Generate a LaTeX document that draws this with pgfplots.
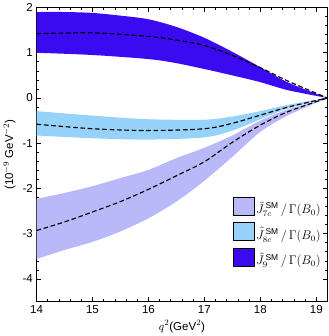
\documentclass[border=0pt]{standalone}
\usepackage{fontspec}
\setmainfont{Liberation Sans}
\usepackage{pgfplots}
\pgfplotsset{compat=1.18}
\usepgfplotslibrary{fillbetween}
\definecolor{cnine}{RGB}{60,10,240}
\definecolor{ceight}{RGB}{150,210,250}
\definecolor{cseven}{RGB}{185,185,250}
\begin{document}
\begin{tikzpicture}
\begin{axis}[
  scale only axis, width=278pt, height=281pt,
  xmin=14, xmax=19.2, ymin=-4.5, ymax=2,
  xtick={14,15,16,17,18,19}, ytick={-4,-3,-2,-1,0,1,2},
  minor x tick num=4, minor y tick num=4,
  tick align=inside, axis line style={line width=1.2pt},
  major tick length=4pt, minor tick length=2pt,
  tick style={black, line width=0.6pt},
  /pgf/number format/assume math mode=true,
  ticklabel style={font=\fontsize{11}{12}\selectfont},
  xlabel={$q^2$(GeV$^2$)}, ylabel={(10$^{-9}$ GeV$^{-2}$)},
  label style={font=\fontsize{11}{12}\selectfont},
  legend style={draw=none, fill=none, at={(0.995,0.105)}, anchor=south east, font=\fontsize{11.5}{12}\selectfont, row sep=5pt},
  legend cell align=left,
  legend image code/.code={\fill[#1] (0pt,-6pt) rectangle (20pt,11pt);},
]
% J8c band
\addplot[name path=e8u, draw=none, smooth, forget plot] coordinates {(14,-0.29) (15,-0.39) (16,-0.47) (17,-0.48) (17.5,-0.41) (18,-0.29) (18.5,-0.15) (19.2,0)};
\addplot[name path=e8l, draw=none, smooth, forget plot] coordinates {(14,-0.83) (15,-0.89) (16,-0.92) (17,-0.87) (17.5,-0.72) (18,-0.47) (18.5,-0.23) (19.2,0)};
\addplot[ceight, forget plot] fill between[of=e8u and e8l];
% J7c band
\addplot[name path=e7u, draw=none, smooth, forget plot] coordinates {(14,-2.23) (14.5,-2.1) (15,-1.95) (15.5,-1.77) (16,-1.59) (16.5,-1.33) (17,-1.1) (17.5,-0.83) (18,-0.5) (18.5,-0.25) (19.2,0)};
\addplot[name path=e7l, draw=none, smooth, forget plot] coordinates {(14,-3.56) (14.5,-3.36) (15,-3.18) (15.5,-2.95) (16,-2.66) (16.5,-2.29) (17,-1.83) (17.5,-1.3) (18,-0.75) (18.5,-0.38) (19.2,0)};
\addplot[cseven, forget plot] fill between[of=e7u and e7l];
% J9 band
\addplot[name path=e9u, draw=none, smooth, forget plot] coordinates {(14,1.9) (14.5,1.9) (15,1.88) (15.5,1.82) (16,1.74) (16.5,1.57) (17,1.33) (17.5,1.02) (18,0.68) (18.5,0.34) (19.2,0)};
\addplot[name path=e9l, draw=none, smooth, forget plot] coordinates {(14,1.0) (15,0.95) (16,0.86) (16.5,0.77) (17,0.64) (17.5,0.5) (18,0.35) (18.5,0.17) (19.2,0)};
\addplot[cnine, forget plot] fill between[of=e9u and e9l];
% central lines
\addplot[black, line width=1.1pt, smooth, dash pattern=on 4.5pt off 2.5pt, forget plot] coordinates {(14,1.42) (15,1.44) (16,1.36) (16.5,1.28) (17,1.16) (17.5,0.94) (18,0.67) (18.5,0.37) (19.2,0)};
\addplot[black, line width=1.1pt, smooth, dash pattern=on 4.5pt off 2.5pt, forget plot] coordinates {(14,-0.58) (15,-0.68) (16,-0.72) (17,-0.68) (17.5,-0.56) (18,-0.38) (18.5,-0.2) (19.2,0)};
\addplot[black, line width=1.1pt, smooth, dash pattern=on 4.5pt off 2.5pt, forget plot] coordinates {(14,-2.93) (14.5,-2.74) (15,-2.52) (15.5,-2.29) (16,-2.02) (16.5,-1.72) (17,-1.41) (17.5,-0.98) (18,-0.6) (18.5,-0.3) (19.2,0)};
\addlegendimage{fill=cseven}
\addlegendentry{$\tilde{J}^{\,\mathrm{SM}}_{7c}\,/\,\Gamma(B_0)$}
\addlegendimage{fill=ceight}
\addlegendentry{$\tilde{J}^{\,\mathrm{SM}}_{8c}\,/\,\Gamma(B_0)$}
\addlegendimage{fill=cnine}
\addlegendentry{$\tilde{J}^{\,\mathrm{SM}}_{9}\,/\,\Gamma(B_0)$}
\end{axis}
\end{tikzpicture}
\end{document}
